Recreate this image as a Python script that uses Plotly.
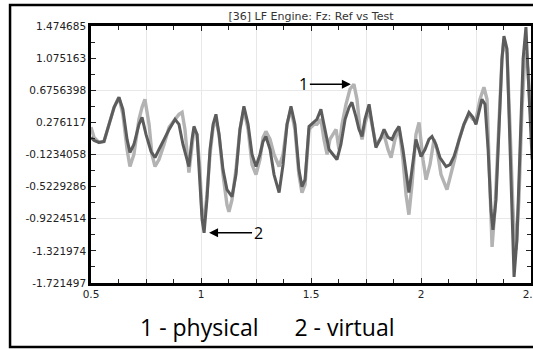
import plotly.graph_objects as go

# ---- data ----
x_virtual = [0.5, 0.514, 0.536, 0.559, 0.582, 0.605, 0.627, 0.645, 0.664, 0.677, 0.695, 0.718, 0.732, 0.750,
             0.773, 0.791, 0.809, 0.832, 0.855, 0.882, 0.900, 0.918, 0.936, 0.945, 0.959, 0.968, 0.982, 0.995,
             1.005, 1.014, 1.027, 1.041, 1.055, 1.068, 1.082, 1.100, 1.118, 1.141, 1.159, 1.177, 1.195, 1.214,
             1.232, 1.250, 1.268, 1.282, 1.295, 1.314, 1.332, 1.355, 1.373, 1.391, 1.409, 1.427, 1.445, 1.459,
             1.473, 1.491, 1.514, 1.527, 1.545, 1.564, 1.582, 1.600, 1.618, 1.636, 1.655, 1.673, 1.686, 1.705,
             1.718, 1.732, 1.745, 1.764, 1.777, 1.795, 1.814, 1.832, 1.850, 1.868, 1.882, 1.900, 1.918, 1.932,
             1.945, 1.959, 1.977, 2.000, 2.018, 2.036, 2.050, 2.068, 2.086, 2.114, 2.132, 2.150, 2.173, 2.195,
             2.218, 2.236, 2.250, 2.264, 2.277, 2.291, 2.305, 2.318, 2.327, 2.341, 2.355, 2.368, 2.377, 2.391,
             2.405, 2.418, 2.423, 2.436, 2.450, 2.464, 2.477, 2.491, 2.505]
y_virtual = [0.089, 0.051, 0.026, 0.039, 0.251, 0.463, 0.588, 0.438, 0.064, -0.098, 0.001, 0.251, 0.339, 0.126,
             -0.086, -0.161, -0.061, 0.064, 0.189, 0.314, 0.251, 0.001, -0.186, -0.273, 0.064, 0.226, 0.126, -0.498,
             -0.935, -1.097, -0.685, -0.061, 0.251, 0.376, 0.126, -0.311, -0.560, -0.648, -0.373, 0.189, 0.476, 0.251,
             -0.123, -0.273, -0.123, 0.039, 0.101, -0.061, -0.373, -0.598, -0.248, 0.251, 0.476, 0.251, -0.311, -0.523,
             -0.436, 0.226, 0.276, 0.314, 0.438, 0.189, -0.061, -0.123, -0.186, 0.001, 0.314, 0.463, 0.526, 0.339,
             0.189, 0.101, 0.314, 0.501, 0.251, -0.036, 0.064, 0.189, 0.089, 0.064, 0.151, 0.226, -0.061, -0.373,
             -0.598, -0.311, 0.064, -0.148, -0.061, 0.064, 0.101, 0.001, -0.161, -0.273, -0.248, -0.148, 0.064, 0.251,
             0.401, 0.339, 0.251, 0.413, 0.563, 0.501, -0.061, -0.810, -1.060, -0.685, 0.314, 1.063, 1.350, 1.188,
             -0.061, -1.309, -1.646, -1.185, 0.064, 1.063, 1.462, 0.563, -0.186]

x_physical = [0.5, 0.514, 0.536, 0.559, 0.582, 0.605, 0.627, 0.645, 0.664, 0.677, 0.695, 0.718, 0.732, 0.745,
              0.764, 0.777, 0.791, 0.809, 0.832, 0.855, 0.882, 0.900, 0.914, 0.927, 0.945, 0.959, 0.968, 0.982,
              0.995, 1.005, 1.014, 1.027, 1.041, 1.055, 1.068, 1.082, 1.100, 1.118, 1.127, 1.141, 1.159, 1.177,
              1.195, 1.214, 1.232, 1.250, 1.268, 1.282, 1.295, 1.314, 1.332, 1.355, 1.373, 1.391, 1.409, 1.427,
              1.445, 1.459, 1.473, 1.491, 1.514, 1.527, 1.545, 1.559, 1.573, 1.586, 1.600, 1.614, 1.627, 1.641,
              1.659, 1.677, 1.695, 1.709, 1.723, 1.732, 1.745, 1.764, 1.777, 1.795, 1.814, 1.832, 1.850, 1.864,
              1.882, 1.900, 1.918, 1.932, 1.945, 1.959, 1.977, 1.991, 2.009, 2.023, 2.041, 2.059, 2.073, 2.091,
              2.118, 2.136, 2.155, 2.173, 2.195, 2.218, 2.236, 2.250, 2.268, 2.286, 2.300, 2.309, 2.318, 2.323,
              2.336, 2.355, 2.368, 2.377, 2.391, 2.405, 2.418, 2.432, 2.445, 2.459, 2.473, 2.486, 2.500]
y_physical = [0.214, 0.089, 0.026, 0.039, 0.251, 0.463, 0.588, 0.376, -0.061, -0.273, -0.123, 0.314, 0.463, 0.563,
              0.251, -0.123, -0.273, -0.186, 0.001, 0.214, 0.314, 0.376, 0.401, 0.189, -0.348, -0.061, 0.189, 0.126,
              -0.311, -0.872, -0.960, -0.623, -0.123, 0.214, 0.314, 0.126, -0.373, -0.748, -0.835, -0.685, -0.311, 0.189,
              0.438, 0.189, -0.248, -0.373, -0.186, 0.089, 0.164, 0.064, -0.123, -0.273, -0.123, 0.251, 0.438, 0.189,
              -0.373, -0.598, -0.498, 0.189, 0.251, 0.251, 0.314, 0.064, -0.123, 0.064, 0.126, 0.189, -0.061, 0.251,
              0.501, 0.688, 0.751, 0.563, 0.189, 0.064, 0.251, 0.438, 0.251, 0.001, 0.064, 0.126, -0.061, -0.161,
              0.064, 0.214, -0.186, -0.623, -0.872, -0.498, 0.126, 0.276, -0.186, -0.436, -0.248, 0.064, -0.061, -0.373,
              -0.560, -0.373, -0.161, 0.064, 0.251, 0.376, 0.314, 0.314, 0.563, 0.713, 0.563, -0.186, -0.935, -1.272,
              -0.810, 0.314, 1.063, 1.312, 1.125, 0.189, -0.810, -1.309, -0.685, 0.438, 1.150, 0.938, 0.314]

y_ticks = [1.474685, 1.075163, 0.6756398, 0.276117, -0.1234058, -0.5229286, -0.9224514, -1.321974, -1.721497]
y_tick_text = ["1.474685", "1.075163", "0.6756398", "0.276117", "-0.1234058", "-0.5229286", "-0.9224514",
               "-1.321974", "-1.721497"]
y_grid = [1.474685, 0.6756398, -0.1234058, -0.9224514, -1.721497]
x_ticks = [0.5, 1, 1.5, 2, 2.5]
x_tick_text = ["0.5", "1", "1.5", "2", "2.5"]

title_text = "[36] LF Engine: Fz: Ref vs Test"
caption = "1 - physical&nbsp;&nbsp;&nbsp;&nbsp;&nbsp;&nbsp;2 - virtual"

YMIN, YMAX = -1.721497, 1.474685
XMIN, XMAX = 0.5, 2.5

fig = go.Figure()
fig.add_trace(go.Scatter(x=x_physical, y=y_physical, mode="lines",
                         line=dict(color="#b3b3b3", width=3.4), showlegend=False))
fig.add_trace(go.Scatter(x=x_virtual, y=y_virtual, mode="lines",
                         line=dict(color="#5c5c5c", width=3), showlegend=False))

tickfont = dict(family="DejaVu Sans", size=10.5, color="#222")

fig.update_layout(
    width=533, height=349,
    margin=dict(l=91, r=2, t=26, b=66),
    paper_bgcolor="white", plot_bgcolor="white",
    title=dict(text=title_text, x=0.5, xref="paper", y=1 - 16 / 349, yref="container",
               xanchor="center", yanchor="middle",
               font=dict(family="DejaVu Sans", size=11, color="#333")),
    xaxis=dict(range=[XMIN, XMAX], tickvals=x_ticks, ticktext=x_tick_text, tickfont=tickfont,
               ticks="inside", ticklen=5, tickcolor="#222", showgrid=False, zeroline=False,
               showline=True, linewidth=2.5, linecolor="black", mirror="ticks",
               ticklabeloverflow="allow", automargin=False,
               minor=dict(dtick=0.125, tick0=0.5, ticks="inside", ticklen=4, tickcolor="#222", showgrid=False)),
    yaxis=dict(range=[YMIN, YMAX], tickvals=y_ticks, ticktext=y_tick_text, tickfont=tickfont,
               ticks="inside", ticklen=5, tickcolor="#222", showgrid=False, zeroline=False,
               showline=True, linewidth=2.5, linecolor="black", mirror="ticks", automargin=False,
               minor=dict(dtick=(YMAX - YMIN) / 16, tick0=YMIN, ticks="inside", ticklen=4,
                          tickcolor="#222", showgrid=False)),
    xaxis2=dict(range=[XMIN, XMAX], overlaying="x", dtick=0.25, tick0=0.5, showgrid=True,
                gridcolor="#e8e8e8", gridwidth=1, showticklabels=False, ticks="", zeroline=False,
                showline=False, anchor="y", automargin=False),
    yaxis2=dict(range=[YMIN, YMAX], overlaying="y", tickvals=y_grid, showgrid=True,
                gridcolor="#e8e8e8", gridwidth=1, showticklabels=False, ticks="", zeroline=False,
                showline=False, anchor="x", automargin=False),
)

# invisible trace to activate grid axes
fig.add_trace(go.Scatter(x=[XMIN], y=[YMIN], xaxis="x2", yaxis="y2", mode="markers",
                         marker=dict(opacity=0), showlegend=False, hoverinfo="skip"))

# annotations with arrows
fig.add_annotation(x=1.695, y=0.751, text="1", showarrow=True, arrowhead=2, arrowsize=1.2,
                   arrowwidth=1.5, arrowcolor="black", ax=-50, ay=0, standoff=3,
                   font=dict(family="Open Sans", size=16, color="black"))
fig.add_annotation(x=1.023, y=-1.097, text="2", showarrow=True, arrowhead=2, arrowsize=1.2,
                   arrowwidth=1.5, arrowcolor="black", ax=52, ay=0, standoff=3,
                   font=dict(family="Open Sans", size=16, color="black"))

fig.add_annotation(x=0.402, y=-0.171, xref="paper", yref="paper", text=caption, showarrow=False,
                   xanchor="center", yanchor="middle",
                   font=dict(family="Open Sans", size=23, color="black"))

# outer frame
fig.add_shape(type="rect", xref="paper", yref="paper", x0=-0.184, x1=1.2, y0=-0.249, y1=1.082,
              line=dict(color="black", width=2.5), fillcolor="rgba(0,0,0,0)", layer="above")

fig.write_html("out.html")
